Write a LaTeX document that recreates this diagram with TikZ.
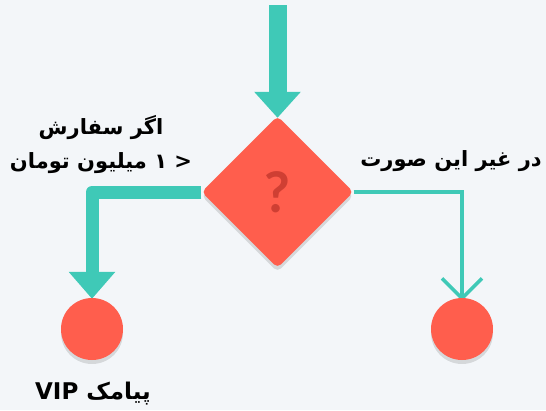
\documentclass[tikz,border=0pt]{standalone}
\usepackage{fontspec}
\usetikzlibrary{shapes.geometric,arrows.meta,shadows,backgrounds}
\TeXXeTstate=1
\newfontfamily\arabicfont[Script=Arabic]{DejaVu Sans}
\newfontfamily\qfont{Lato}
\definecolor{bgc}{HTML}{F3F6F9}
\definecolor{teal1}{HTML}{3FC9B7}
\definecolor{red1}{HTML}{FF5E4D}
\definecolor{qred}{HTML}{CF3F33}
\tikzset{
  softshadow/.style={drop shadow={shadow xshift=0pt,shadow yshift=-4pt,opacity=0.12,fill=black}},
  decision/.style={diamond,aspect=1,minimum width=152pt,minimum height=152pt,inner sep=0pt,
    fill=red1,rounded corners=5pt,softshadow},
  endpoint/.style={circle,minimum size=62pt,inner sep=0pt,fill=red1,softshadow},
  thickflow/.style={teal1,line width=13pt,line join=round,-{Triangle[width=45pt,length=27pt]}},
  mainflow/.style={teal1,line width=18pt,-{Triangle[width=45pt,length=26pt]}},
  thinflow/.style={teal1,line width=3.5pt,-{Straight Barb[length=20pt,width=40pt]}},
  lbl/.style={font=\arabicfont\bfseries\fontsize{21}{34}\selectfont,text=black,align=center,inner sep=0pt}
}
\begin{document}
\begin{tikzpicture}[x=1pt,y=-1pt]
\useasboundingbox (0,0) rectangle (546,410);
\begin{pgfonlayer}{background}
\fill[bgc] (0,0) rectangle (546,410);
\end{pgfonlayer}
\node[decision] (d) at (277.5,192) {\qfont\bfseries\fontsize{56}{56}\selectfont\color{qred}?};
\node[endpoint] (c1) at (92,329) {};
\node[endpoint] (c2) at (462,329) {};
\coordinate (top) at (277.5,5);
\begin{pgfonlayer}{background}
\draw[mainflow] (top) -- ([yshift=-2pt]d.north);
\draw[thickflow] (d.west) -| ([yshift=-1pt]c1.north);
\draw[thinflow] (d.east) -| ([yshift=-3pt]c2.north);
\end{pgfonlayer}
\node[lbl] (l1) at (101,145) {\beginR اگر سفارش\endR\\\beginR < ۱ میلیون تومان\endR};
\node[lbl] (l2) at (451,161) {\beginR در غیر این صورت\endR};
\node[lbl,font=\arabicfont\bfseries\fontsize{23}{30}\selectfont] (l3) at (93,394) {\beginR پیامک \beginL VIP\endL\endR};
\end{tikzpicture}
\end{document}
